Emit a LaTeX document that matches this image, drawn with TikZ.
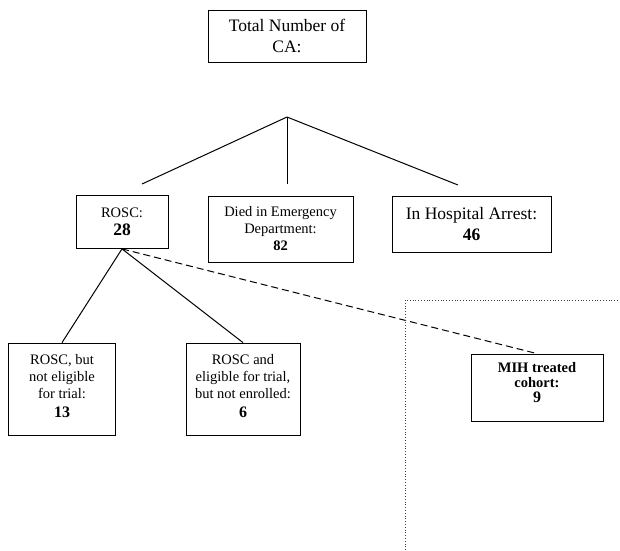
\documentclass[tikz,border=0pt]{standalone}
\usepackage{fontspec}
\setmainfont{Liberation Serif}
\usetikzlibrary{arrows.meta,calc,positioning}
\newcommand{\bigtxt}{\fontsize{17.5}{21}\selectfont}
\newcommand{\smtxt}{\fontsize{14.5}{17}\selectfont}
\newcommand{\numtxt}[2]{{\fontsize{#1}{#1}\selectfont\bfseries #2}}

\begin{document}
\begin{tikzpicture}[x=1pt,y=-1pt,>=Latex,
    box/.style={draw,line width=0.8pt,align=center,inner sep=0pt},
    link/.style={line width=1pt}]
  \useasboundingbox (0,0) rectangle (620,550);
  \node[box,font=\bigtxt,minimum width=158pt,minimum height=52pt] (total) at (287,36) {Total Number of\\CA:};
  \node[box,font=\smtxt,minimum width=92pt,minimum height=53pt] (rosc) at (122,222) {ROSC:\\[1pt]\numtxt{17.5}{28}};
  \node[box,font=\smtxt,minimum width=145pt,minimum height=66pt] (died) at (280.5,229) {Died in Emergency\\Department:\\\numtxt{14.5}{82}};
  \node[box,font=\bigtxt,minimum width=159pt,minimum height=56pt] (hosp) at (471.5,224) {In Hospital Arrest:\\\numtxt{17.5}{46}};
  \node[box,font=\smtxt,minimum width=107pt,minimum height=92pt,text depth=6pt] (noelig) at (62,389) {ROSC, but\\not eligible\\for trial:\\[2pt]\numtxt{16}{13}};
  \node[box,font=\smtxt,minimum width=114pt,minimum height=92pt,text depth=6pt] (noenrol) at (243,389) {ROSC and\\eligible for trial,\\but not enrolled:\\[2pt]\numtxt{16}{6}};
  \node[box,font=\fontsize{14.5}{15}\selectfont\bfseries,minimum width=132pt,minimum height=67pt,text depth=10pt] (mih) at (537,387.5) {MIH treated\\cohort:\\\numtxt{16}{9}};
  \coordinate (fork) at (287,117);
  \foreach \c/\x/\y in {forkl/142/184,forkm/287/184,forkr/458/185}{
    \coordinate (\c) at (\x,\y);
    \draw[link] (fork)--(\c);}
  \draw[link] (rosc.south)--(noelig.north);
  \draw[link] (rosc.south)--(noenrol.north);
  \draw[link,dashed,dash pattern=on 7pt off 4pt] (rosc.south)--(mih.north);
  \draw[dotted,line width=0.8pt,black!75] (405,550) |- (620,300);
\end{tikzpicture}
\end{document}
